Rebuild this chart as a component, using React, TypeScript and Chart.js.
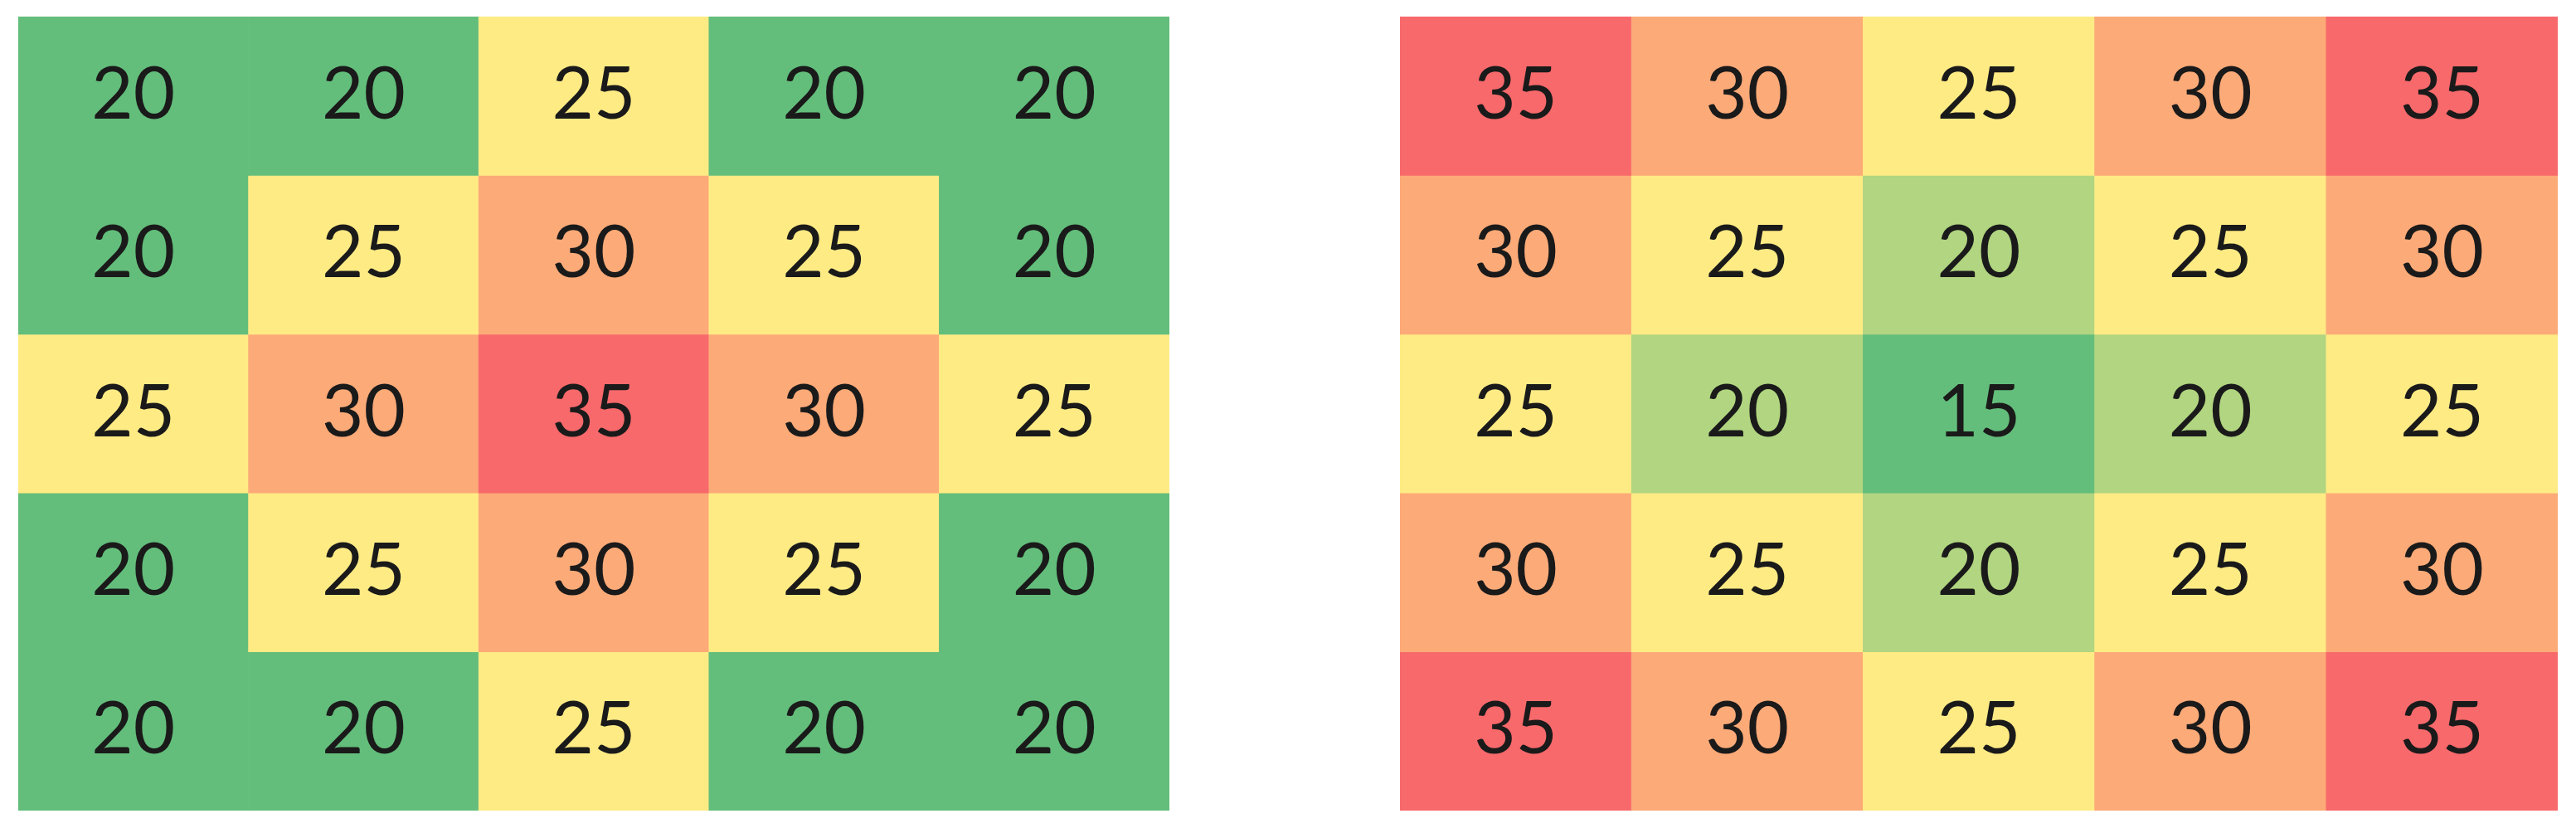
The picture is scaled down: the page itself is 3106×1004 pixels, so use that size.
import React, { useEffect, useRef } from "react";
import { Chart, registerables } from "chart.js";

Chart.register(...registerables);

const columns = ["C1", "C2", "C3", "C4", "C5"];
const rows = ["R1", "R2", "R3", "R4", "R5"];

const leftValues: number[][] = [
  [20, 20, 25, 20, 20],
  [20, 25, 30, 25, 20],
  [25, 30, 35, 30, 25],
  [20, 25, 30, 25, 20],
  [20, 20, 25, 20, 20],
];

const rightValues: number[][] = [
  [35, 30, 25, 30, 35],
  [30, 25, 20, 25, 30],
  [25, 20, 15, 20, 25],
  [30, 25, 20, 25, 30],
  [35, 30, 25, 30, 35],
];

// Excel-style 3-colour scale: min green, median yellow, max red
const LOW = [0x63, 0xbe, 0x7b];
const MID = [0xff, 0xeb, 0x84];
const HIGH = [0xf8, 0x69, 0x6b];

function mix(a: number[], b: number[], t: number) {
  const c = a.map((v, i) => Math.round(v + (b[i] - v) * t));
  return `rgb(${c[0]},${c[1]},${c[2]})`;
}

function colourFor(v: number, grid: number[][]) {
  const flat = grid.flat().slice().sort((a, b) => a - b);
  const min = flat[0];
  const max = flat[flat.length - 1];
  const med = flat[Math.floor(flat.length / 2)];
  if (v <= med) {
    const t = med === min ? 1 : (v - min) / (med - min);
    return mix(LOW, MID, t);
  }
  const t = max === med ? 0 : (v - med) / (max - med);
  return mix(MID, HIGH, t);
}

const labelPlugin = {
  id: "cellLabels",
  afterDatasetsDraw(chart: any) {
    const ctx = chart.ctx;
    ctx.save();
    ctx.font = '87px Lato, "Open Sans", sans-serif';
    ctx.fillStyle = "#1a1a1a";
    ctx.textAlign = "center";
    ctx.textBaseline = "alphabetic";
    chart.data.datasets.forEach((ds: any, di: number) => {
      const meta = chart.getDatasetMeta(di);
      meta.data.forEach((el: any, i: number) => {
        const cy = (el.y + el.base) / 2;
        const h = Math.abs(el.base - el.y);
        ctx.fillText(String(ds.cellValues[i]), el.x, cy + h * 0.142);
      });
    });
    ctx.restore();
  },
};

function Heatmap({ grid, width, height }: { grid: number[][]; width: number; height: number }) {
  const ref = useRef<HTMLCanvasElement | null>(null);
  useEffect(() => {
    if (!ref.current) return;
    const chart = new Chart(ref.current, {
      type: "bar",
      data: {
        labels: columns,
        datasets: rows.map((r, ri) => ({
          label: r,
          data: columns.map(() => 1),
          cellValues: grid[ri],
          backgroundColor: grid[ri].map((v) => colourFor(v, grid)),
          borderWidth: 0,
          barPercentage: 1,
          categoryPercentage: 1,
        })) as any,
      },
      options: {
        responsive: false,
        animation: false,
        devicePixelRatio: 1,
        layout: { padding: 0 },
        plugins: { legend: { display: false }, tooltip: { enabled: false } },
        scales: {
          x: { display: false, stacked: true },
          y: { display: false, stacked: true, min: 0, max: rows.length, reverse: true },
        },
      },
      plugins: [labelPlugin],
    });
    return () => chart.destroy();
  }, [grid, width, height]);
  return <canvas ref={ref} width={width} height={height} style={{ display: "block" }} />;
}

export default function App() {
  return (
    <div>
      <div style={{ position: "absolute", left: 22, top: 20, width: 1388, height: 957 }}>
        <Heatmap grid={leftValues} width={1388} height={957} />
      </div>
      <div style={{ position: "absolute", left: 1688, top: 20, width: 1396, height: 957 }}>
        <Heatmap grid={rightValues} width={1396} height={957} />
      </div>
    </div>
  );
}
